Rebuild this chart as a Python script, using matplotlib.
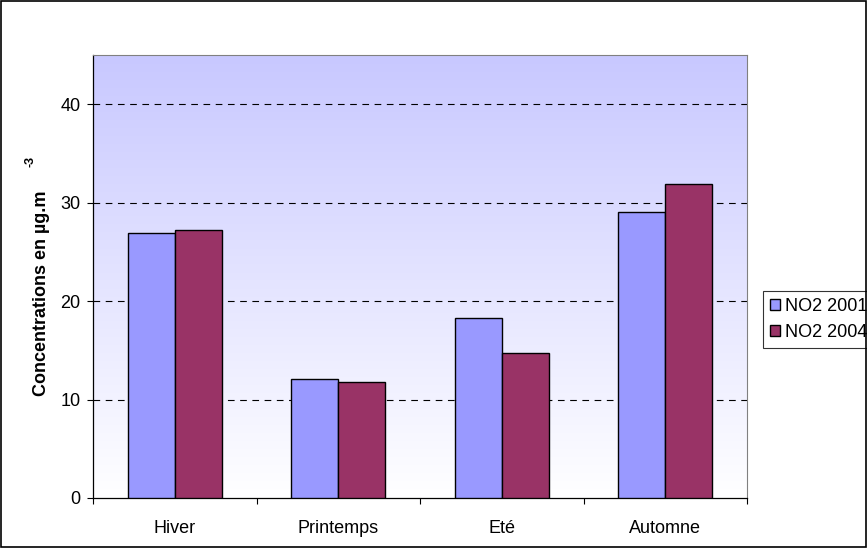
import matplotlib
matplotlib.use("Agg")
import matplotlib.pyplot as plt
import numpy as np
from matplotlib.patches import Rectangle
from matplotlib.colors import LinearSegmentedColormap

plt.rcParams['font.family'] = ['Liberation Sans', 'DejaVu Sans']

categories = ["Hiver", "Printemps", "Eté", "Automne"]
no2_2001 = [26.9, 12.1, 18.3, 29.1]
no2_2004 = [27.2, 11.8, 14.7, 31.9]
series_labels = ["NO2 2001", "NO2 2004"]
yticks = [0, 10, 20, 30, 40]

fig = plt.figure(figsize=(8.67, 5.48), dpi=100)
ax = fig.add_axes([93/867, 1-498/548, (747-93)/867, (498-55)/548])

# gradient background
cmap = LinearSegmentedColormap.from_list("bg", ["#ffffff", "#c8c8ff"])
grad = np.linspace(0, 1, 256).reshape(-1, 1)
ax.imshow(grad, aspect='auto', cmap=cmap, origin='lower',
          extent=[-0.5, len(categories)-0.5, 0, 45], zorder=0)

x = np.arange(len(categories))
w = 0.287
ax.bar(x - w/2, no2_2001, width=w, color="#9999ff", edgecolor="black", linewidth=1.0,
       label=series_labels[0], zorder=3)
ax.bar(x + w/2, no2_2004, width=w, color="#993366", edgecolor="black", linewidth=1.0,
       label=series_labels[1], zorder=3)

ax.set_xlim(-0.5, len(categories)-0.5)
ax.set_ylim(0, 45)
ax.set_yticks(yticks)
ax.set_yticklabels([str(t) for t in yticks], fontsize=13)
for t in yticks[1:]:
    ax.axhline(t, color="black", linestyle=(0, (6, 5)), linewidth=0.8, zorder=1)

ax.set_xticks(x)
ax.set_xticklabels(categories, fontsize=13)
ax.tick_params(axis='x', length=0, pad=16)
ax.set_xticks(np.arange(-0.5, len(categories), 1.0), minor=True)
ax.tick_params(axis='x', which='minor', length=4, direction='out', width=0.8)
ax.tick_params(axis='y', length=4, direction='out', width=0.8, pad=5)

for s in ['top', 'right']:
    ax.spines[s].set_color('#808080')
    ax.spines[s].set_linewidth(0.8)
for s in ['left', 'bottom']:
    ax.spines[s].set_color('black')
    ax.spines[s].set_linewidth(0.9)

fig.text(42/867, 1-293/548, "Concentrations en µg.m", rotation=90, fontsize=13,
         fontweight='bold', ha='center', va='center')
fig.text(31/867, 1-161/548, "-3", rotation=90, fontsize=9,
         fontweight='bold', ha='center', va='center')

leg = ax.legend(loc='upper left', bbox_to_anchor=(763/867, 1-291/548),
                bbox_transform=fig.transFigure, fontsize=13, frameon=True,
                fancybox=False, edgecolor='black', handlelength=0.55, handleheight=0.55,
                handletextpad=0.25, borderpad=0.4, labelspacing=0.5, borderaxespad=0)
leg.get_frame().set_linewidth(0.8)

fig.patches.append(Rectangle((0.001, 0.001), 0.998, 0.997, transform=fig.transFigure,
                             fill=False, edgecolor='black', linewidth=1.2))

fig.savefig("out.png", dpi=100)
